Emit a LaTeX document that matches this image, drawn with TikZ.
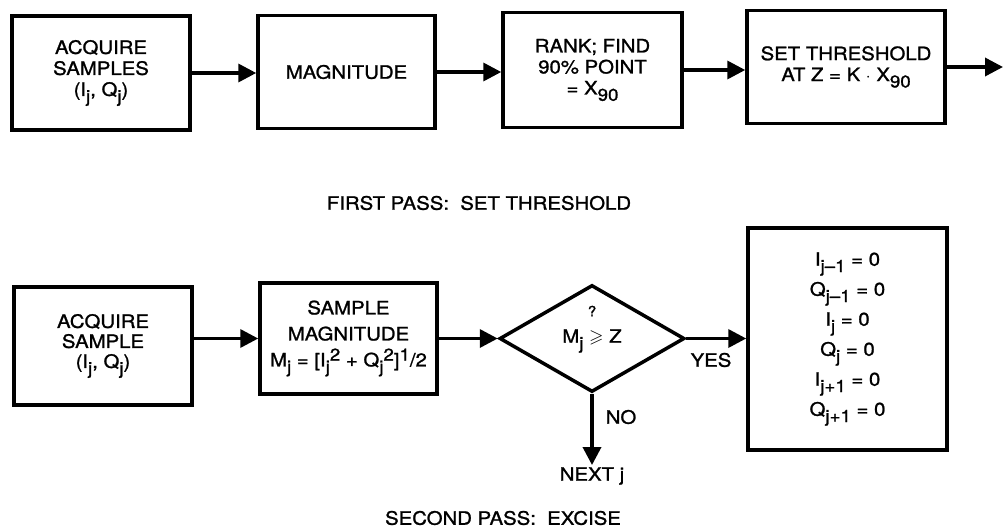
\documentclass[tikz,border=0pt]{standalone}
\usepackage{fontspec}
\usepackage{amssymb}
\setmainfont{TeX Gyre Heros}[FakeStretch=1.1,FakeBold=1.2]
\usetikzlibrary{arrows.meta,shapes.geometric}
\newcommand{\subtx}[1]{\raisebox{-0.65ex}{\fontsize{17}{17}\selectfont #1}}
\newcommand{\suptx}[1]{\raisebox{0.6ex}{\fontsize{17}{17}\selectfont #1}}
\begin{document}
\begin{tikzpicture}[x=1pt,y=-1pt,
    blk/.style={draw, line width=3.5pt, align=center, inner sep=2pt,
        font=\fontsize{18.5}{21}\selectfont},
    dec/.style={draw, diamond, line width=3.5pt, inner sep=0pt,
        minimum width=185pt, minimum height=107pt},
    arr/.style={line width=3.5pt, -{Triangle[length=18pt,width=18pt]}},
    lbl/.style={font=\fontsize{18.5}{22}\selectfont, inner sep=2pt}]
    \useasboundingbox (0,0) rectangle (1003,527);

    % First pass
    \node[blk, minimum width=178pt, minimum height=114pt] (acq) at (101,73)
        {ACQUIRE\\SAMPLES\\(I\subtx{j}, Q\subtx{j})};
    \node[blk, minimum width=177pt, minimum height=113pt] (mag) at (346.5,72)
        {MAGNITUDE};
    \node[blk, minimum width=179pt, minimum height=115pt] (rank) at (592.5,70)
        {RANK; FIND\\90\% POINT\\= X\subtx{90}};
    \node[blk, minimum width=198pt, minimum height=113pt] (thr) at (846,67)
        {SET THRESHOLD\\AT Z = K $\cdot$ X\subtx{90}};
    \coordinate (out) at (1003,67);

    \draw[arr] (acq.east) -- (acq.east -| mag.west);
    \draw[arr] (mag.east) -- (mag.east -| rank.west);
    \draw[arr] (rank.east) -- (rank.east -| thr.west);
    \draw[arr] (thr.east) -- (out);

    \node[lbl] (pass1) at (479,203) {FIRST PASS:\ \ SET THRESHOLD};

    % Second pass
    \node[blk, minimum width=178pt, minimum height=118pt,
        font=\fontsize{18.5}{20}\selectfont] (acq2) at (103,346)
        {ACQUIRE\\SAMPLE\\(I\subtx{j}, Q\subtx{j})};
    \node[blk, minimum width=177pt, minimum height=111pt, inner sep=0pt,
        font=\fontsize{18.5}{26}\selectfont] (smag) at (348.5,338.5)
        {SAMPLE\\MAGNITUDE\\M\subtx{j} = [I\subtx{j}\suptx{2} + Q\subtx{j}\suptx{2}]\suptx{1}/2};
    \node[dec] (dia) at (592,338.5) {};
    \node[lbl, font=\fontsize{14}{14}\selectfont] (ask) at (592,311) {?};
    \node[lbl] (cond) at (592,341) {M\subtx{j} $\geqslant$ Z};
    \node[blk, minimum width=199pt, minimum height=222pt,
        font=\fontsize{18.5}{30}\selectfont] (zero) at (847.5,339)
        {I\subtx{j--1} = 0\\Q\subtx{j--1} = 0\\I\subtx{j} = 0\\Q\subtx{j} = 0\\I\subtx{j+1} = 0\\Q\subtx{j+1} = 0};
    \node[lbl] (nxt) at (592,476) {NEXT j};

    \draw[arr] (acq2.east |- smag.west) -- (smag.west);
    \draw[arr] (smag.east) -- (smag.east -| dia.west);
    \draw[arr] (dia.east) -- (dia.east -| zero.west);
    \draw[arr] (dia.south) -- (nxt.north);

    \node[lbl] (yes) at (711,360) {YES};
    \node[lbl] (no) at (621,417) {NO};

    \node[lbl] (pass2) at (503,518) {SECOND PASS:\ \ EXCISE};
\end{tikzpicture}
\end{document}
